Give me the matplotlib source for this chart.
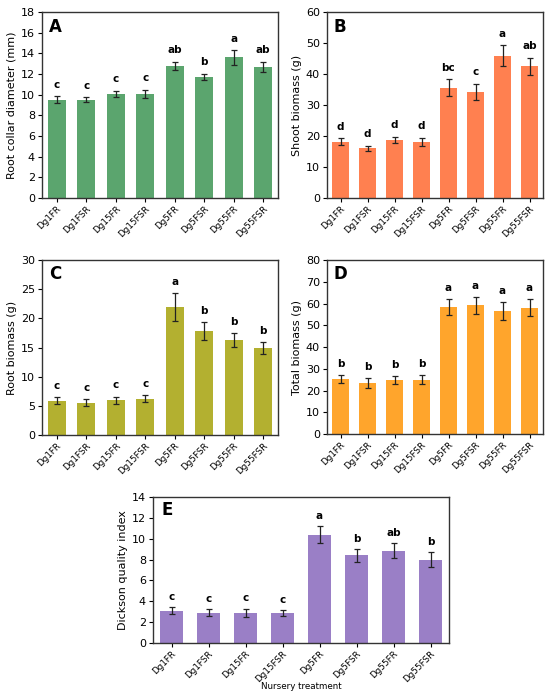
import matplotlib
matplotlib.use('Agg')
import matplotlib.pyplot as plt

# treatments
treatments = ['Dg1FR', 'Dg1FSR', 'Dg15FR', 'Dg15FSR', 'Dg5FR', 'Dg5FSR', 'Dg55FR', 'Dg55FSR']

# A - root collar diameter
rcd_mean = [9.5, 9.5, 10.1, 10.1, 12.8, 11.7, 13.6, 12.7]
rcd_err = [0.35, 0.25, 0.3, 0.4, 0.4, 0.3, 0.7, 0.5]
rcd_sig = ['c', 'c', 'c', 'c', 'ab', 'b', 'a', 'ab']

# B - shoot biomass
shoot_mean = [18.2, 16.0, 18.7, 18.2, 35.6, 34.3, 45.9, 42.5]
shoot_err = [1.1, 0.8, 1.1, 1.3, 2.7, 2.6, 3.3, 2.8]
shoot_sig = ['d', 'd', 'd', 'd', 'bc', 'c', 'a', 'ab']

# C - root biomass
root_mean = [5.9, 5.5, 6.0, 6.2, 22.0, 17.8, 16.3, 14.9]
root_err = [0.6, 0.6, 0.6, 0.6, 2.4, 1.5, 1.2, 1.0]
root_sig = ['c', 'c', 'c', 'c', 'a', 'b', 'b', 'b']

# D - total biomass
total_mean = [25.2, 23.4, 24.8, 24.9, 58.4, 59.1, 56.5, 58.1]
total_err = [1.8, 2.2, 1.9, 2.0, 3.7, 3.8, 4.0, 3.9]
total_sig = ['b', 'b', 'b', 'b', 'a', 'a', 'a', 'a']

# E - Dickson quality index
dqi_mean = [3.1, 2.9, 2.9, 2.9, 10.4, 8.4, 8.85, 8.0]
dqi_err = [0.35, 0.35, 0.4, 0.3, 0.85, 0.65, 0.7, 0.7]
dqi_sig = ['c', 'c', 'c', 'c', 'a', 'b', 'ab', 'b']

W, H = 550, 696
fig = plt.figure(figsize=(W / 100, H / 100), dpi=100)


def px_axes(left, top, right, bottom):
    return fig.add_axes([left / W, 1 - bottom / H, (right - left) / W, (bottom - top) / H])


def panel(ax, mean, err, sig, color, ymax, step, ylabel, letter):
    x = range(len(treatments))
    ax.bar(x, mean, width=0.6, color=color, edgecolor='none')
    ax.errorbar(x, mean, yerr=err, fmt='none', ecolor='#222222', elinewidth=0.9,
                capsize=2.5, capthick=0.9)
    for i in x:
        ax.text(i, mean[i] + err[i] + ymax * 0.035, sig[i], ha='center', va='bottom',
                fontsize=7.5, fontweight='bold')
    ax.set_xlim(-0.5, len(treatments) - 0.5)
    ax.set_ylim(0, ymax)
    ax.set_yticks(range(0, ymax + 1, step))
    ax.set_xticks(list(x))
    ax.set_xticklabels(treatments, rotation=45, ha='right', rotation_mode='anchor', fontsize=6.3)
    ax.tick_params(axis='y', labelsize=8, length=3, width=0.8, pad=2)
    ax.tick_params(axis='x', length=3, width=0.8, pad=1.5)
    ax.set_ylabel(ylabel, fontsize=8, labelpad=3)
    for s in ax.spines.values():
        s.set_linewidth(1.0)
        s.set_color('#333333')
    ax.text(0.03, 0.97, letter, transform=ax.transAxes, ha='left', va='top',
            fontsize=12, fontweight='bold')


axA = px_axes(42, 12, 278, 198)
panel(axA, rcd_mean, rcd_err, rcd_sig, '#5ba56e', 18, 2, 'Root collar diameter (mm)', 'A')

axB = px_axes(327, 12, 543, 198)
panel(axB, shoot_mean, shoot_err, shoot_sig, '#ff8050', 60, 10, 'Shoot biomass (g)', 'B')

axC = px_axes(42, 260, 278, 435)
panel(axC, root_mean, root_err, root_sig, '#b3b030', 30, 5, 'Root biomass (g)', 'C')

axD = px_axes(327, 260, 543, 434)
panel(axD, total_mean, total_err, total_sig, '#ffa52c', 80, 10, 'Total biomass (g)', 'D')

axE = px_axes(153, 497, 449, 643)
panel(axE, dqi_mean, dqi_err, dqi_sig, '#9a7fc6', 14, 2, 'Dickson quality index', 'E')
axE.set_xlabel('Nursery treatment', fontsize=6.3)
axE.xaxis.set_label_coords(0.5, -0.3)
axE.xaxis.label.set_va('center')

fig.savefig('out.png', dpi=100)
